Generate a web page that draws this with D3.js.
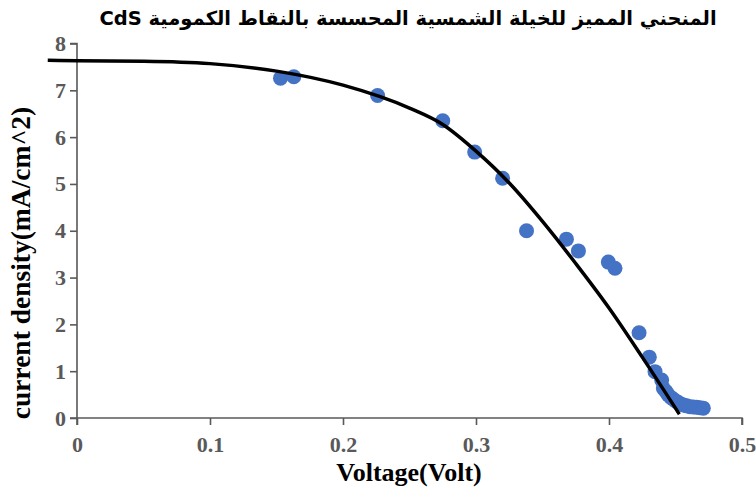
<!DOCTYPE html>
<html>
<head>
<meta charset="utf-8">
<script src="https://cdn.jsdelivr.net/npm/d3@7"></script>
<style>
  body { margin: 0; background: #fff; }
  svg { display: block; }
</style>
</head>
<body>
<svg id="chart"></svg>
<script>
// measured points (Voltage V, current density mA/cm^2)
const voltage = [0.153, 0.163, 0.226, 0.275, 0.299, 0.320, 0.338, 0.368, 0.377, 0.3995, 0.4045,
  0.4226, 0.4303, 0.4346, 0.4396, 0.4409, 0.4430, 0.4446, 0.4465, 0.4484, 0.4503, 0.4521,
  0.4540, 0.4559, 0.4584, 0.4609, 0.4634, 0.4659, 0.4684, 0.4709];
const density = [7.26, 7.29, 6.89, 6.35, 5.68, 5.12, 4.00, 3.82, 3.57, 3.33, 3.20,
  1.82, 1.30, 0.99, 0.81, 0.63, 0.56, 0.49, 0.44, 0.40, 0.36, 0.33,
  0.30, 0.28, 0.26, 0.24, 0.235, 0.23, 0.22, 0.21];

// trendline
const trendV = [-0.022, 0, 0.05, 0.10, 0.15, 0.20, 0.25, 0.275, 0.30, 0.325, 0.35, 0.375, 0.40, 0.425, 0.4529];
const trendJ = [7.64, 7.63, 7.62, 7.57, 7.41, 7.11, 6.62, 6.27, 5.70, 5.02, 4.20, 3.30, 2.35, 1.30, 0.08];

const xTicks = [0, 0.1, 0.2, 0.3, 0.4, 0.5];
const yTicks = [0, 1, 2, 3, 4, 5, 6, 7, 8];

const title = 'المنحني المميز للخيلة الشمسية المحسسة بالنقاط الكمومية CdS';
const xTitle = 'Voltage(Volt)';
const yTitle = 'current density(mA/cm^2)';

const svgWidth = 756;
const svgHeight = 491;
const margin = { top: 43.5, right: 14, bottom: 73, left: 77 };
const width = svgWidth - margin.left - margin.right;
const height = svgHeight - margin.top - margin.bottom;

const font = '"Liberation Serif", "Times New Roman", serif';
const axisGrey = '#595959';

const svg = d3.select('#chart')
  .attr('width', svgWidth)
  .attr('height', svgHeight);

const g = svg.append('g')
  .attr('transform', `translate(${margin.left}, ${margin.top})`);

const xScale = d3.scaleLinear().domain([0, 0.5]).range([0, width]);
const yScale = d3.scaleLinear().domain([0, 8]).range([height, 0]);

const xAxis = d3.axisBottom(xScale)
  .tickValues(xTicks)
  .tickSize(7)
  .tickPadding(11)
  .tickFormat(d => d === 0 ? '0' : d3.format('.1f')(d));
const yAxis = d3.axisLeft(yScale)
  .tickValues(yTicks)
  .tickSize(7)
  .tickPadding(4)
  .tickFormat(d3.format('d'));

function styleAxis(sel) {
  sel.select('.domain').attr('stroke', axisGrey).attr('stroke-width', 1.6);
  sel.selectAll('.tick line').attr('stroke', axisGrey).attr('stroke-width', 1.6);
  sel.selectAll('.tick text')
    .attr('fill', axisGrey)
    .style('font-family', font)
    .style('font-weight', 'bold')
    .style('font-size', '22px');
}

g.append('g')
  .attr('transform', `translate(0, ${height})`)
  .call(xAxis)
  .call(sel => sel.select('.domain').attr('d', `M0,7V0H${width}V7`))
  .call(styleAxis);

g.append('g')
  .call(yAxis)
  .call(sel => sel.select('.domain').attr('d', `M-7,0H0V${height}H-7`))
  .call(styleAxis);

// scatter points
const points = voltage.map((v, i) => ({ v: v, j: density[i] }));
g.selectAll('.pt')
  .data(points)
  .enter()
  .append('circle')
    .attr('class', 'pt')
    .attr('cx', d => xScale(d.v))
    .attr('cy', d => yScale(d.j))
    .attr('r', 7.5)
    .attr('fill', '#4472C4');

// trendline
const trend = trendV.map((v, i) => ({ v: v, j: trendJ[i] }));
const line = d3.line()
  .x(d => xScale(d.v))
  .y(d => yScale(d.j))
  .curve(d3.curveMonotoneX);

g.append('path')
  .datum(trend)
  .attr('d', line)
  .attr('fill', 'none')
  .attr('stroke', '#000')
  .attr('stroke-width', 3.5);

// titles
svg.append('text')
  .attr('x', 408)
  .attr('y', 25)
  .attr('text-anchor', 'middle')
  .attr('direction', 'rtl')
  .style('font-family', '"DejaVu Sans", ' + font)
  .style('font-weight', 'bold')
  .style('font-size', '19.5px')
  .text(title);

svg.append('text')
  .attr('x', 409)
  .attr('y', 481)
  .attr('text-anchor', 'middle')
  .style('font-family', font)
  .style('font-weight', 'bold')
  .style('font-size', '26px')
  .text(xTitle);

svg.append('text')
  .attr('transform', 'translate(30, 263) rotate(-90)')
  .attr('text-anchor', 'middle')
  .style('font-family', font)
  .style('font-weight', 'bold')
  .style('font-size', '27.5px')
  .text(yTitle);
</script>
</body>
</html>
